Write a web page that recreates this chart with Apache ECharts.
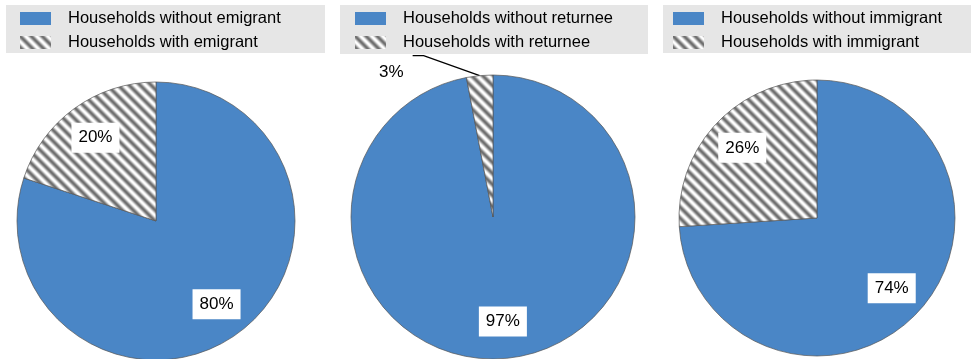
<!DOCTYPE html>
<html>
<head>
<meta charset="utf-8">
<script src="https://cdn.jsdelivr.net/npm/echarts@6/dist/echarts.min.js"></script>
<style>
  html, body { margin: 0; padding: 0; background: #ffffff; }
  #chart { width: 971px; height: 359px; }
</style>
</head>
<body>
<div id="chart"></div>
<script>
// Household shares (%) for the three panels
const emigrantNames = ['Households without emigrant', 'Households with emigrant'];
const emigrantValues = [80, 20];

const returneeNames = ['Households without returnee', 'Households with returnee'];
const returneeValues = [97, 3];

const immigrantNames = ['Households without immigrant', 'Households with immigrant'];
const immigrantValues = [74, 26];

const FONT = '"Liberation Sans", Arial, Helvetica, sans-serif';
const BLUE = '#4a86c6';

// Soft diagonal hatch tile used for the "with ..." slices
function makeHatch() {
  const P = 11;
  const c = document.createElement('canvas');
  c.width = P; c.height = P;
  const ctx = c.getContext('2d');
  const img = ctx.createImageData(P, P);
  for (let y = 0; y < P; y++) {
    for (let x = 0; x < P; x++) {
      const t = (((x - y) % P) + P) % P / P;
      const v = 0.5 + 0.5 * Math.cos(2 * Math.PI * t);
      const g = Math.round(255 - 145 * Math.pow(v, 1.1));
      const i = (y * P + x) * 4;
      img.data[i] = g; img.data[i + 1] = g; img.data[i + 2] = g; img.data[i + 3] = 255;
    }
  }
  ctx.putImageData(img, 0, 0);
  return { image: c, repeat: 'repeat' };
}
const HATCH = makeHatch();
const sliceColors = [BLUE, HATCH];

// Layout of each panel: pie centre / radius, legend placement and legend box
const panels = [
  { names: emigrantNames, values: emigrantValues, center: [156, 221], r: 139, legendLeft: 20, box: [6, 5, 319, 48], outside: [] },
  { names: returneeNames, values: returneeValues, center: [493, 217], r: 142, legendLeft: 355, box: [340, 5, 308, 49], outside: [1] },
  { names: immigrantNames, values: immigrantValues, center: [817, 218], r: 138, legendLeft: 673, box: [663, 5, 308, 48], outside: [] }
];

const series = [];
const legends = [];
const graphics = [];

panels.forEach(function (p, k) {
  graphics.push({
    type: 'rect',
    z: -10,
    shape: { x: p.box[0], y: p.box[1], width: p.box[2], height: p.box[3] },
    style: { fill: '#e6e6e6' }
  });

  legends.push({
    orient: 'vertical',
    left: p.legendLeft,
    top: 10,
    padding: 0,
    icon: 'rect',
    itemWidth: 31,
    itemHeight: 13,
    itemGap: 7,
    selectedMode: false,
    itemStyle: { borderWidth: 0 },
    data: p.names.slice(),
    textStyle: { fontFamily: FONT, fontSize: 16.5, color: '#000', lineHeight: 17, padding: [0, 0, 0, 12] }
  });

  // Main pie
  series.push({
    type: 'pie',
    name: 'pie' + k,
    center: p.center,
    radius: [0, p.r],
    startAngle: 90,
    clockwise: true,
    silent: true,
    animation: false,
    itemStyle: { borderColor: '#555555', borderWidth: 0.7 },
    label: { show: false },
    labelLine: { show: false },
    data: p.values.map(function (v, i) {
      const item = { name: p.names[i], value: v, itemStyle: { color: sliceColors[i] } };
      if (p.outside.indexOf(i) >= 0) {
        item.label = {
          show: true, position: 'outside', formatter: '{c}%',
          fontFamily: FONT, fontSize: 17, color: '#000'
        };
        item.labelLine = { show: true, lineStyle: { color: '#000', width: 1.4 } };
      }
      return item;
    }),
    labelLayout: p.outside.length ? function (params) {
      if (p.outside.indexOf(params.dataIndex) < 0 || !params.labelLinePoints) return {};
      const a = params.labelLinePoints[0];
      return {
        x: a[0] - 76,
        y: a[1] - 3,
        align: 'right',
        verticalAlign: 'middle',
        labelLinePoints: [
          [a[0], a[1]],
          [a[0] - 56, a[1] - 20],
          [a[0] - 67, a[1] - 20]
        ]
      };
    } : null
  });

  // Transparent ring carrying the inside value labels
  series.push({
    type: 'pie',
    name: 'labels' + k,
    center: p.center,
    radius: [Math.round(p.r * 0.44), p.r],
    startAngle: 90,
    clockwise: true,
    silent: true,
    animation: false,
    itemStyle: { color: 'rgba(0,0,0,0)', borderWidth: 0 },
    labelLine: { show: false },
    label: {
      show: true, position: 'inside', formatter: '{c}%',
      fontFamily: FONT, fontSize: 17, color: '#000',
      backgroundColor: '#ffffff', padding: [7, 7, 6, 7]
    },
    data: p.values.map(function (v, i) {
      const item = { name: p.names[i], value: v };
      if (p.outside.indexOf(i) >= 0) item.label = { show: false };
      return item;
    })
  });
});

const chart = echarts.init(document.getElementById('chart'), null, { renderer: 'canvas' });
chart.setOption({
  backgroundColor: '#ffffff',
  animation: false,
  legend: legends,
  graphic: graphics,
  series: series
});
</script>
</body>
</html>
